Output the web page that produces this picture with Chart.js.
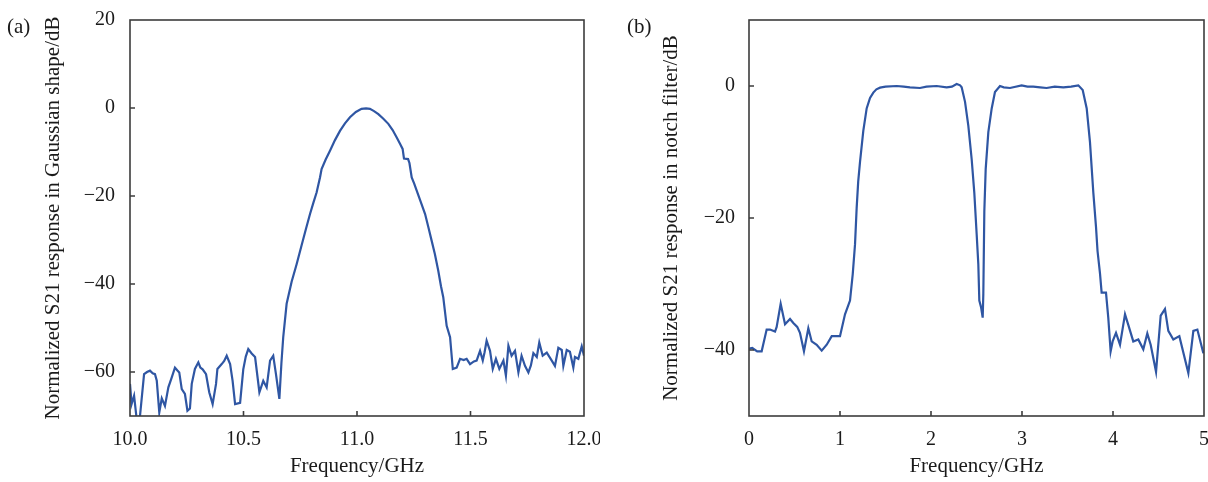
<!DOCTYPE html>
<html>
<head>
<meta charset="utf-8">
<script src="https://cdn.jsdelivr.net/npm/chart.js@4.4.1/dist/chart.umd.min.js"></script>
<style>
  html, body { margin: 0; padding: 0; background: #ffffff; }
  #wrap { position: relative; width: 1208px; height: 482px; overflow: hidden; }
  canvas { position: absolute; top: 0; }
  #cA { left: 0; }
  #cB { left: 600px; }
  .lbl { position: absolute; font-family: 'Liberation Serif', 'Times New Roman', serif; font-size: 21px; color: #1a1a1a; line-height: 1; }
</style>
</head>
<body>
<div id="wrap">
  <canvas id="cA" width="600" height="482"></canvas>
  <canvas id="cB" width="608" height="482"></canvas>
  <div class="lbl" style="left:7px;top:16px;">(a)</div>
  <div class="lbl" style="left:627px;top:16px;">(b)</div>
</div>
<script>
// ---- Panel (a): Gaussian-shape response ----
const freqA = [10.000,10.007,10.018,10.029,10.044,10.062,10.075,10.088,10.100,10.110,10.118,10.129,10.140,10.154,10.169,10.184,10.198,10.208,10.217,10.228,10.242,10.253,10.264,10.272,10.286,10.301,10.310,10.320,10.335,10.349,10.364,10.379,10.385,10.404,10.415,10.426,10.441,10.452,10.463,10.485,10.499,10.510,10.521,10.536,10.551,10.570,10.587,10.602,10.617,10.631,10.643,10.658,10.667,10.675,10.690,10.712,10.734,10.756,10.775,10.793,10.808,10.822,10.837,10.844,10.862,10.881,10.903,10.925,10.947,10.969,10.995,11.020,11.040,11.057,11.075,11.094,11.115,11.138,11.157,11.175,11.190,11.201,11.207,11.225,11.231,11.241,11.252,11.263,11.282,11.300,11.315,11.329,11.343,11.358,11.370,11.380,11.395,11.410,11.422,11.439,11.454,11.470,11.483,11.498,11.515,11.527,11.542,11.554,11.562,11.571,11.586,11.598,11.612,11.627,11.645,11.656,11.667,11.681,11.696,11.711,11.725,11.740,11.755,11.766,11.777,11.792,11.803,11.818,11.836,11.858,11.872,11.887,11.902,11.909,11.924,11.938,11.953,11.960,11.975,11.990,12.000];
const s21A = [-62.7,-67.3,-65.4,-70.5,-70.0,-60.5,-60.0,-59.7,-60.3,-60.5,-62.0,-69.2,-66.0,-67.7,-63.5,-61.2,-59.0,-59.6,-60.1,-63.9,-65.0,-68.8,-68.3,-62.7,-59.3,-57.8,-59.0,-59.4,-60.5,-64.6,-67.3,-62.7,-59.3,-58.2,-57.5,-56.3,-58.2,-62.0,-67.3,-67.0,-59.4,-56.5,-54.8,-55.8,-56.6,-64.6,-62.0,-63.5,-57.4,-56.3,-60.5,-66.1,-58.0,-52.1,-44.5,-39.5,-35.5,-31.2,-27.5,-24.1,-21.5,-19.2,-15.8,-13.9,-11.7,-9.7,-7.3,-5.2,-3.5,-2.1,-0.9,-0.2,-0.1,-0.2,-0.7,-1.4,-2.4,-3.6,-5.0,-6.7,-8.2,-9.3,-11.5,-11.6,-12.5,-15.8,-17.2,-18.8,-21.5,-24.1,-27.2,-30.2,-33.2,-37.0,-40.5,-43.0,-49.5,-52.1,-59.3,-59.0,-57.0,-57.3,-57.0,-58.2,-57.6,-57.4,-55.2,-57.4,-55.5,-52.9,-55.2,-59.3,-57.0,-59.3,-57.4,-60.8,-54.0,-56.3,-55.2,-60.1,-56.3,-58.6,-60.1,-58.5,-55.7,-56.6,-53.3,-56.3,-55.6,-57.4,-58.6,-54.5,-55.0,-58.6,-55.0,-55.4,-59.0,-56.6,-57.0,-54.2,-56.3];
const xTicksA = [10.0, 10.5, 11.0, 11.5, 12.0];
const yTicksA = [-60, -40, -20, 0, 20];

// ---- Panel (b): notch-filter response ----
const freqB = [0.000,0.036,0.090,0.139,0.194,0.231,0.286,0.304,0.348,0.396,0.451,0.487,0.530,0.560,0.604,0.652,0.689,0.744,0.799,0.854,0.909,1.000,1.055,1.110,1.140,1.165,1.183,1.200,1.220,1.256,1.293,1.330,1.366,1.400,1.440,1.500,1.623,1.700,1.769,1.879,1.950,2.062,2.172,2.230,2.282,2.320,2.337,2.374,2.410,2.447,2.476,2.502,2.520,2.531,2.550,2.568,2.575,2.586,2.601,2.630,2.667,2.703,2.758,2.800,2.868,2.996,3.060,3.124,3.200,3.270,3.360,3.454,3.540,3.619,3.667,3.711,3.747,3.784,3.813,3.830,3.857,3.875,3.923,3.948,3.974,3.996,4.033,4.077,4.132,4.168,4.223,4.278,4.333,4.377,4.414,4.473,4.524,4.571,4.608,4.663,4.729,4.828,4.883,4.927,4.993];
const s21B = [-39.8,-39.7,-40.2,-40.2,-36.9,-36.9,-37.2,-36.5,-33.0,-36.1,-35.3,-35.9,-36.5,-37.4,-40.2,-36.7,-38.7,-39.2,-40.1,-39.2,-37.9,-37.9,-34.6,-32.5,-28.5,-24.0,-18.5,-14.5,-11.5,-6.8,-3.4,-1.8,-1.0,-0.5,-0.25,-0.1,0.0,-0.1,-0.2,-0.3,-0.1,0.0,-0.2,-0.1,0.3,0.1,-0.2,-2.4,-6.0,-11.1,-16.2,-22.5,-27.0,-32.5,-33.5,-35.1,-31.5,-19.0,-12.6,-7.0,-3.4,-0.9,0.0,-0.2,-0.3,0.1,-0.1,-0.1,-0.2,-0.3,-0.1,-0.2,-0.1,0.1,-0.6,-3.4,-8.5,-16.2,-21.3,-25.0,-28.4,-31.3,-31.3,-35.1,-40.2,-38.7,-37.4,-39.2,-34.6,-36.2,-38.7,-38.4,-39.9,-37.5,-39.2,-43.3,-34.8,-33.8,-37.1,-38.4,-37.9,-43.5,-37.1,-36.9,-40.5];
const xTicksB = [0, 1, 2, 3, 4, 5];
const yTicksB = [-40, -20, 0];

const LINE = '#2f56a3';
const AXIS = '#3c3c3c';
const TEXT = '#1a1a1a';
Chart.defaults.font.family = "'Liberation Serif', 'Times New Roman', serif";
Chart.defaults.color = TEXT;

const framePlugin = {
  id: 'frame',
  afterDraw(chart) {
    const {ctx, chartArea: a, scales: {x, y}} = chart;
    ctx.save();
    ctx.strokeStyle = AXIS;
    ctx.lineWidth = 1.6;
    ctx.strokeRect(a.left, a.top, a.right - a.left, a.bottom - a.top);
    ctx.beginPath();
    x.ticks.forEach(t => {
      const p = x.getPixelForValue(t.value);
      if (p > a.left + 2 && p < a.right - 2) { ctx.moveTo(p, a.bottom); ctx.lineTo(p, a.bottom - 5); }
    });
    y.ticks.forEach(t => {
      const p = y.getPixelForValue(t.value);
      if (p > a.top + 2 && p < a.bottom - 2) { ctx.moveTo(a.left, p); ctx.lineTo(a.left + 5, p); }
    });
    ctx.stroke();
    ctx.restore();
  }
};

function fmtMinus(v) { return String(v).replace('-', '\u2212'); }

function makeChart(id, fx, fy, xr, yr, xt, yt, xFmt, yTitle, geom) {
  const data = fx.map((f, i) => ({x: f, y: fy[i]}));
  return new Chart(document.getElementById(id), {
    type: 'line',
    data: { datasets: [{ data, borderColor: LINE, borderWidth: 2.2, pointRadius: 0, tension: 0, fill: false }] },
    options: {
      responsive: false, animation: false,
      layout: { padding: { left: 0, right: geom.padRight, top: 20, bottom: 0 } },
      plugins: { legend: { display: false }, tooltip: { enabled: false } },
      scales: {
        x: {
          type: 'linear', min: xr[0], max: xr[1],
          grid: { display: false, drawTicks: false }, border: { display: false },
          afterBuildTicks: s => { s.ticks = xt.map(v => ({value: v})); },
          afterFit: s => { s.height = 66; s.paddingLeft = 0; s.paddingRight = 0; },
          ticks: { font: { size: 20 }, padding: 12, maxRotation: 0, autoSkip: false, color: TEXT, callback: v => xFmt(v) },
          title: { display: true, text: 'Frequency/GHz', font: { size: 21 }, color: TEXT, padding: { top: 0, bottom: 3 } }
        },
        y: {
          type: 'linear', min: yr[0], max: yr[1],
          grid: { display: false, drawTicks: false }, border: { display: false },
          afterBuildTicks: s => { s.ticks = yt.map(v => ({value: v})); },
          afterFit: s => { s.width = geom.yWidth; s.paddingTop = 0; s.paddingBottom = 0; },
          ticks: { font: { size: 20 }, padding: geom.yPad, autoSkip: false, color: TEXT, callback: v => fmtMinus(v) },
          title: { display: true, text: yTitle, font: { size: 21 }, color: TEXT, padding: { top: geom.yTitlePad, bottom: 0 } }
        }
      }
    },
    plugins: [framePlugin]
  });
}

makeChart('cA', freqA, s21A, [10, 12], [-70, 20], xTicksA, yTicksA,
  v => v.toFixed(1), 'Normalized S21 response in Gaussian shape/dB',
  { padRight: 16, yWidth: 130, yPad: 15, yTitlePad: 41 });

makeChart('cB', freqB, s21B, [0, 5], [-50, 10], xTicksB, yTicksB,
  v => String(v), 'Normalized S21 response in notch filter/dB',
  { padRight: 4, yWidth: 149, yPad: 14, yTitlePad: 59 });
</script>
</body>
</html>
